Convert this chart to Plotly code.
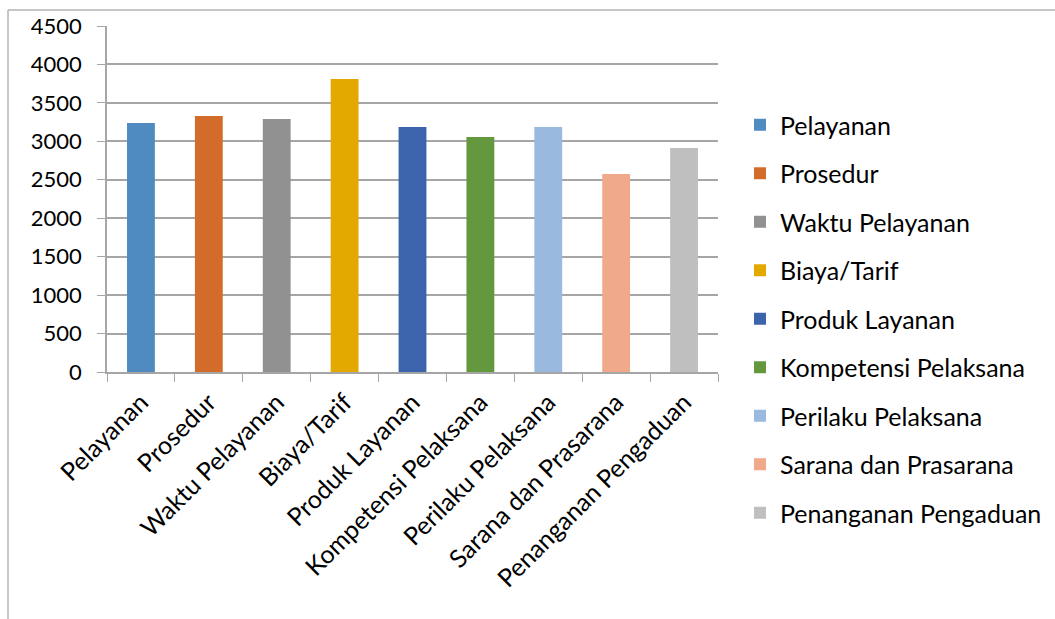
import plotly.graph_objects as go

categories = ["Pelayanan", "Prosedur", "Waktu Pelayanan", "Biaya/Tarif", "Produk Layanan",
              "Kompetensi Pelaksana", "Perilaku Pelaksana", "Sarana dan Prasarana",
              "Penanganan Pengaduan"]
values = [3238, 3329, 3290, 3811, 3186, 3056, 3186, 2575, 2913]
colors = ["#4F8BC0", "#D36C2A", "#919191", "#E3A900", "#3C64AC",
          "#63983E", "#9AB9DF", "#F0A98A", "#BFBFBF"]
y_ticks = [0, 500, 1000, 1500, 2000, 2500, 3000, 3500, 4000, 4500]

FONT = "Lato, 'Open Sans', sans-serif"

fig = go.Figure()
for cat, val, col in zip(categories, values, colors):
    fig.add_trace(go.Bar(x=[cat], y=[val], name=cat, marker_color=col,
                         marker_line_width=0, width=0.41, legendgroup=cat))

W, H = 1055, 619
L, R, T, B = 107, 337, 26, 247
pw, ph = W - L - R, H - T - B

def px(x):
    return (x - L) / pw

def py(y):
    return 1 - (y - T) / ph

fig.update_layout(
    width=W, height=H,
    margin=dict(l=L, r=R, t=T, b=B, autoexpand=False),
    paper_bgcolor="white", plot_bgcolor="white",
    barmode="overlay",
    font=dict(family=FONT, size=20, color="#000000"),
    showlegend=True,
    legend=dict(x=px(740), y=py(102), xanchor="left", yanchor="top",
                font=dict(family=FONT, size=25, color="#000000"),
                tracegroupgap=13, traceorder="grouped", bgcolor="rgba(0,0,0,0)",
                itemwidth=30, maxheight=600),
    xaxis=dict(categoryorder="array", categoryarray=categories,
               tickangle=-45, tickson="boundaries", ticks="outside", ticklen=8,
               tickcolor="#a6a6a6", showline=True, linecolor="#a6a6a6", linewidth=1.5,
               ticklabelstandoff=4,
               tickfont=dict(family=FONT, size=25, color="#000000"),
               showgrid=False, fixedrange=True),
    yaxis=dict(range=[0, 4500], tickvals=y_ticks, ticks="outside", ticklen=8,
               tickcolor="#a6a6a6", showline=True, linecolor="#a6a6a6", linewidth=1.5,
               gridcolor="#a6a6a6", gridwidth=1.5, zeroline=False,
               ticklabelstandoff=11,
               tickfont=dict(family=FONT, size=22, color="#000000"),
               fixedrange=True),
    shapes=[
        dict(type="line", xref="paper", yref="paper", x0=px(8), x1=px(1055),
             y0=py(10), y1=py(10), line=dict(color="#b4b4b4", width=1.5)),
        dict(type="line", xref="paper", yref="paper", x0=px(8), x1=px(8),
             y0=py(10), y1=py(619), line=dict(color="#b4b4b4", width=1.5)),
    ],
)

fig.write_html("out.html")
